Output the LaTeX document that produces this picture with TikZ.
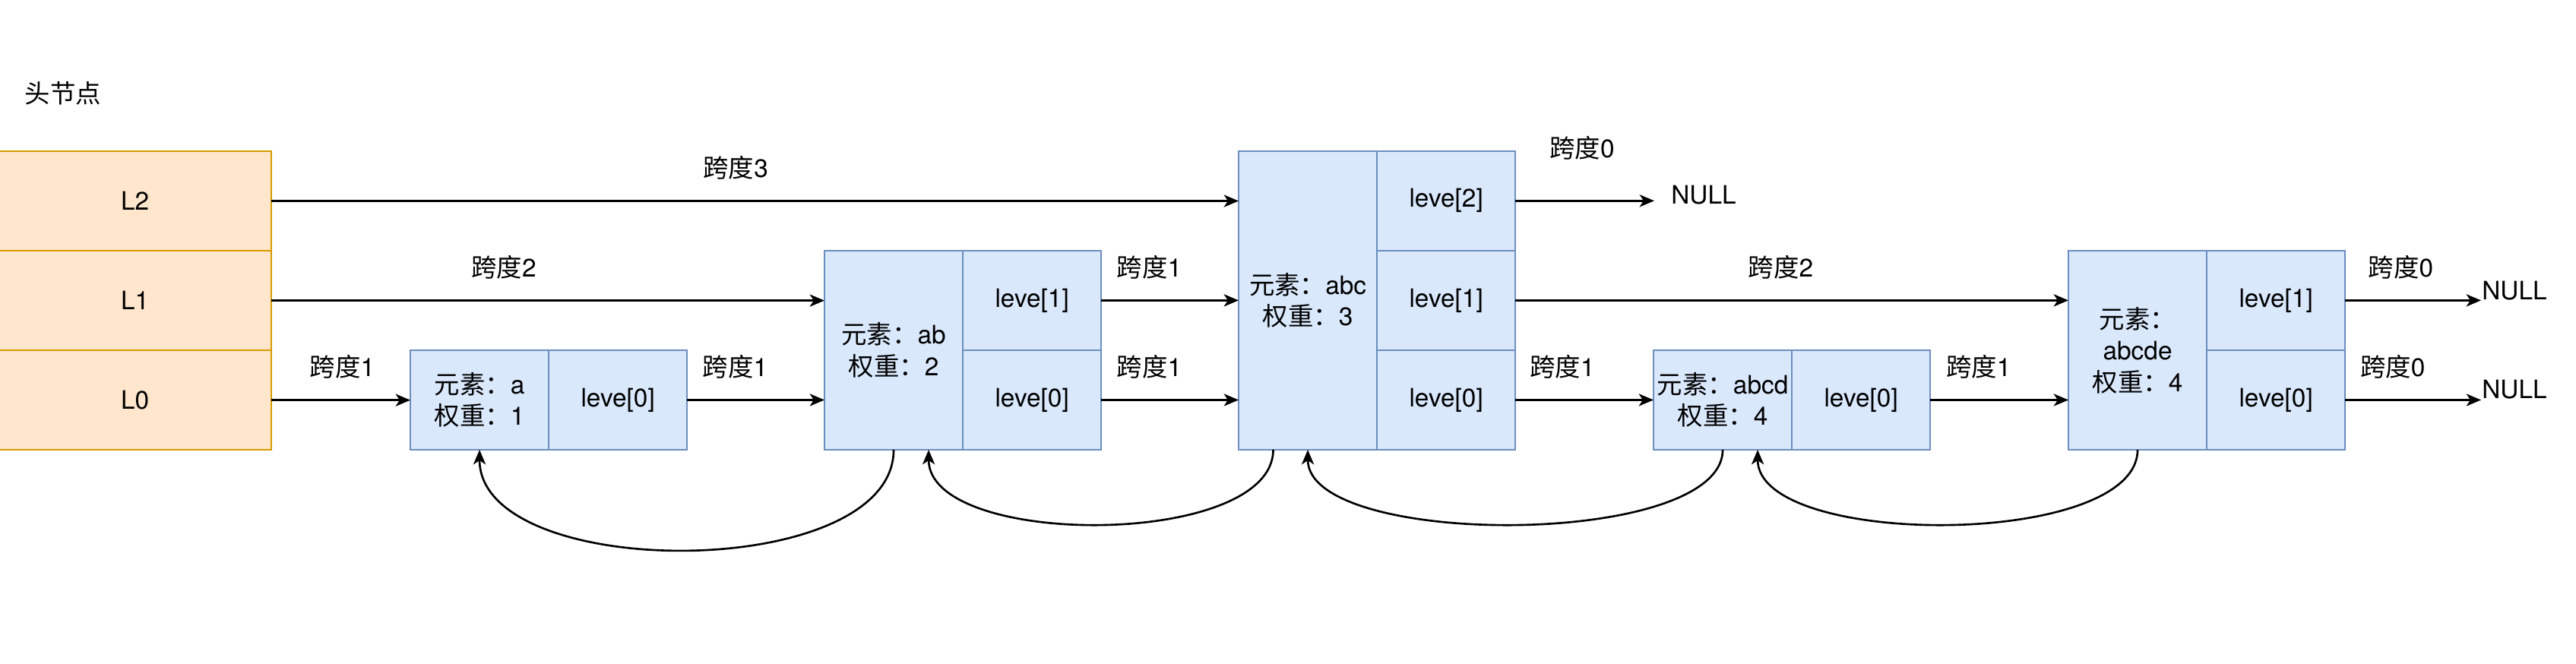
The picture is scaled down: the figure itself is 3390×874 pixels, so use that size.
\documentclass[tikz,border=0pt]{standalone}
\usepackage{fontspec}
\setmainfont{TeX Gyre Heros}
\newfontfamily\cjk{Noto Sans CJK SC}
\usetikzlibrary{arrows.meta,positioning}

\definecolor{headfill}{HTML}{FFE6CC}
\definecolor{headline}{HTML}{D79B00}
\definecolor{cellfill}{HTML}{DAE8FC}
\definecolor{cellline}{HTML}{6C8EBF}

\newcommand{\zh}[1]{{\cjk #1}}

\begin{document}
\begin{tikzpicture}[
            x = 0.01cm, y = -0.01cm,
            font = \fontsize{9.5}{11.8}\selectfont,
            >= {Stealth[length = 5.5pt, width = 4.6pt, inset = 1.5pt]},
            line width = 0.75pt,
            headcell/.style = {
                draw = headline, fill = headfill,
                line width = 0.6pt, outer sep = 0pt,
                minimum width = 3.59cm,
                minimum height = 1.31cm,
            },
            elem/.style = {
                draw = cellline, fill = cellfill,
                line width = 0.6pt, outer sep = 0pt,
                align = center, inner xsep = 1pt,
                minimum width = 1.82cm,
            },
            lvl/.style = {
                draw = cellline, fill = cellfill,
                line width = 0.6pt, outer sep = 0pt,
                minimum width = 1.82cm,
                minimum height = 1.31cm,
            },
            spanlbl/.style = {yshift = 0.44cm},
        ]

        \useasboundingbox (0,0) rectangle (3390,874);

        % Kopknoop
        \node (headtitle) at (83,123) {\zh{头节点}};
        \node[headcell, anchor = north west] (headl2) at (-2,199) {L2};
        \node[headcell, below = 0pt of headl2] (headl1) {L1};
        \node[headcell, below = 0pt of headl1] (headl0) {L0};

        % Elementen
        \node[elem, minimum height = 1.31cm, anchor = south west] (na) at (540,592) {\zh{元素：}a\\\zh{权重：}1};
        \node[lvl, right = 0pt of na] (nal0) {leve[0]};

        \node[elem, minimum height = 2.62cm, anchor = south west] (nab) at (1085,592) {\zh{元素：}ab\\\zh{权重：}2};
        \node[lvl, anchor = north west] (nabl1) at (nab.north east) {leve[1]};
        \node[lvl, below = 0pt of nabl1] (nabl0) {leve[0]};

        \node[elem, minimum height = 3.93cm, anchor = south west] (nabc) at (1630,592) {\zh{元素：}abc\\\zh{权重：}3};
        \node[lvl, anchor = north west] (nabcl2) at (nabc.north east) {leve[2]};
        \node[lvl, below = 0pt of nabcl2] (nabcl1) {leve[1]};
        \node[lvl, below = 0pt of nabcl1] (nabcl0) {leve[0]};

        \node[elem, minimum height = 1.31cm, anchor = south west] (nabcd) at (2176,592) {\zh{元素：}abcd\\\zh{权重：}4};
        \node[lvl, right = 0pt of nabcd] (nabcdl0) {leve[0]};

        \node[elem, minimum height = 2.62cm, anchor = south west] (nabcde) at (2722,592) {\zh{元素：}\\abcde\\\zh{权重：}4};
        \node[lvl, anchor = north west] (nabcdel1) at (nabcde.north east) {leve[1]};
        \node[lvl, below = 0pt of nabcdel1] (nabcdel0) {leve[0]};

        % NULL
        \node[anchor = west, inner xsep = 0.21cm] (nullc) at (2177,257) {NULL};
        \node[anchor = west, inner xsep = 0pt] (nulle1) at (3265,383) {NULL};
        \node[anchor = west, inner xsep = 0pt] (nulle0) at (3265,513) {NULL};

        % Voorwaartse pointers
        \path[->]
            (headl2.east) edge node[spanlbl, pos = 0.48] {\zh{跨度}3} (headl2.east -| nabc.west)
            (headl1.east) edge node[spanlbl, pos = 0.42] {\zh{跨度}2} (headl1.east -| nab.west)
            (headl0.east) edge node[spanlbl, pos = 0.51] {\zh{跨度}1} (headl0.east -| na.west)
            (nal0.east) edge node[spanlbl, pos = 0.35] {\zh{跨度}1} (nal0.east -| nab.west)
            (nabl1.east) edge node[spanlbl, pos = 0.35] {\zh{跨度}1} (nabl1.east -| nabc.west)
            (nabl0.east) edge node[spanlbl, pos = 0.35] {\zh{跨度}1} (nabl0.east -| nabc.west)
            (nabcl1.east) edge node[spanlbl, pos = 0.48] {\zh{跨度}2} (nabcl1.east -| nabcde.west)
            (nabcl0.east) edge node[spanlbl, pos = 0.34] {\zh{跨度}1} (nabcl0.east -| nabcd.west)
            (nabcdl0.east) edge node[spanlbl, pos = 0.35] {\zh{跨度}1} (nabcdl0.east -| nabcde.west);

        \path[->]
            (nabcl2.east) edge node[pos = 0.48, yshift = 0.69cm] {\zh{跨度}0} (nabcl2.east -| nullc.west)
            (nabcdel1.east) edge node[spanlbl, pos = 0.41] {\zh{跨度}0} (nabcdel1.east -| nulle1.west)
            (nabcdel0.east) edge node[spanlbl, pos = 0.35] {\zh{跨度}0} (nabcdel0.east -| nulle0.west);

        % Terugwaartse pointers
        \draw[->] (nab.south) .. controls +(0,175) and +(0,175) .. (na.south);
        \draw[->] ([xshift = -0.455cm]nabc.south) .. controls +(0,130) and +(0,130) .. ([xshift = 0.46cm]nab.south);
        \draw[->] (nabcd.south) .. controls +(0,130) and +(0,130) .. (nabc.south);
        \draw[->] (nabcde.south) .. controls +(0,130) and +(0,130) .. ([xshift = 0.46cm]nabcd.south);
    \end{tikzpicture}
\end{document}
